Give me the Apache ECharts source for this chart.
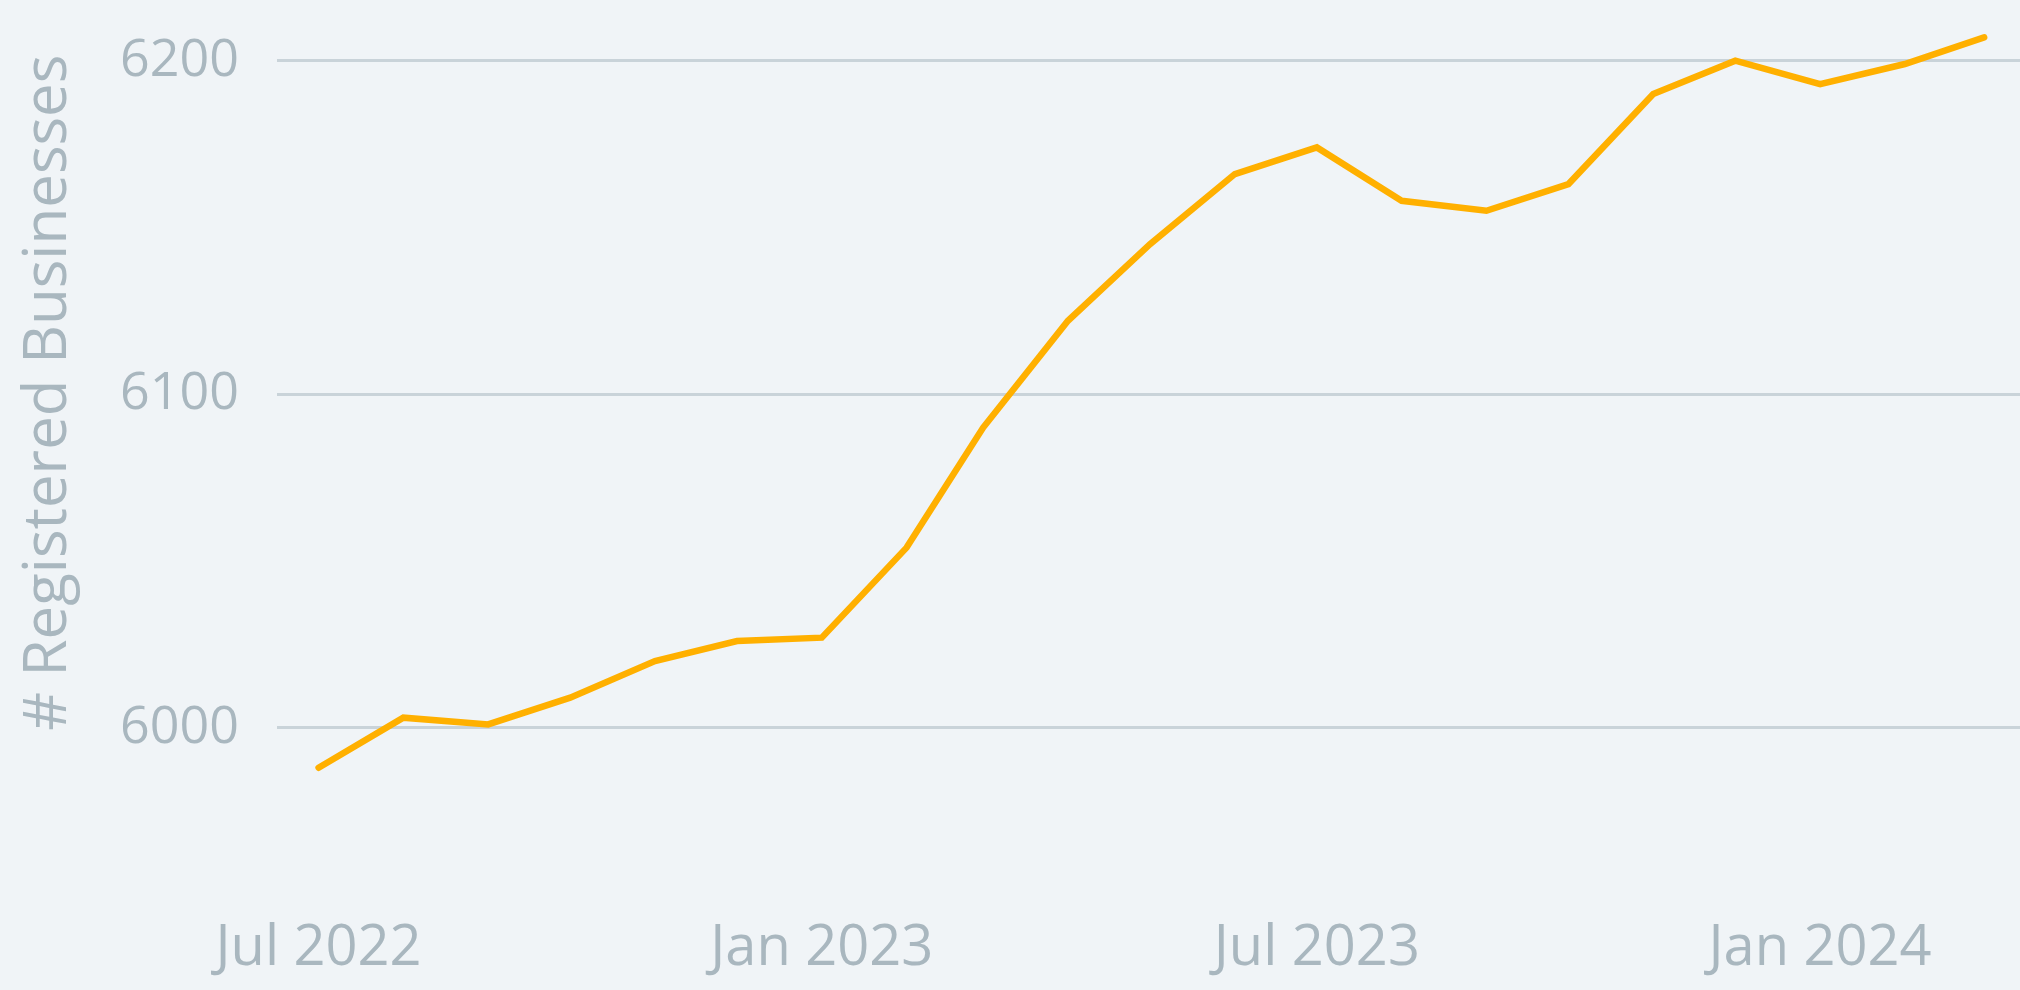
<!DOCTYPE html>
<html>
<head>
<meta charset="utf-8">
<script src="https://cdn.jsdelivr.net/npm/echarts@6/dist/echarts.min.js"></script>
<style>
  html, body { margin: 0; padding: 0; background: #f0f4f7; }
  #chart { width: 2020px; height: 990px; }
</style>
</head>
<body>
<div id="chart"></div>
<script>
// monthly counts, Jul 2022 - Mar 2024
let months = [
  "2022-07-01", "2022-08-01", "2022-09-01", "2022-10-01", "2022-11-01", "2022-12-01",
  "2023-01-01", "2023-02-01", "2023-03-01", "2023-04-01", "2023-05-01", "2023-06-01",
  "2023-07-01", "2023-08-01", "2023-09-01", "2023-10-01", "2023-11-01", "2023-12-01",
  "2024-01-01", "2024-02-01", "2024-03-01",
];
let businesses = [
  5988, 6003, 6001, 6009, 6020, 6026,
  6027, 6054, 6090, 6122, 6145, 6166,
  6174, 6158, 6155, 6163, 6190, 6200,
  6193, 6199, 6207,
];
let xTickDates = ["2022-07-01", "2023-01-01", "2023-07-01", "2024-01-01"];
let xTickLabels = ["Jul 2022", "Jan 2023", "Jul 2023", "Jan 2024"];
let yTickValues = [6000, 6100, 6200];

function toTime(s) {
  let p = s.split("-");
  return Date.UTC(+p[0], +p[1] - 1, +p[2]);
}

const DAY = 24 * 3600 * 1000;
let textColor = "#a9b7bf";
let xTickTimes = xTickDates.map(toTime);

let myCharts = echarts.init(document.getElementById("chart"));
myCharts.setOption({
  backgroundColor: "#f0f4f7",
  animation: false,
  textStyle: { fontFamily: "Open Sans" },
  grid: {
    left: 277,
    right: 0,
    top: 27.35,
    bottom: 128.9,
  },
  xAxis: {
    // dates as plain timestamps so the ticks can be placed by hand
    type: "value",
    min: toTime("2022-07-01") - 15.2 * DAY,
    max: toTime("2024-03-01") + 13.1 * DAY,
    axisLine: { show: false },
    axisTick: { show: false },
    splitLine: { show: false },
    axisLabel: {
      customValues: xTickTimes,
      interval: 0,
      hideOverlap: false,
      formatter: function (v) {
        let i = xTickTimes.indexOf(v);
        return i >= 0 ? xTickLabels[i] : "";
      },
      color: textColor,
      fontSize: 56,
      margin: 60,
      fontFamily: "Open Sans",
    },
  },
  yAxis: {
    type: "value",
    min: 5960,
    max: 6210,
    interval: 20,
    name: "# Registered Businesses",
    nameLocation: "middle",
    nameGap: 198,
    nameTextStyle: {
      color: textColor,
      fontSize: 60,
      fontFamily: "Open Sans",
      // pushes the title up a bit
      padding: [0, 0, 0, 103],
    },
    axisLine: { show: false },
    axisTick: { show: false },
    axisLabel: {
      color: textColor,
      fontSize: 52,
      margin: 38,
      fontFamily: "Open Sans",
      formatter: function (v) {
        return yTickValues.indexOf(v) >= 0 ? String(v) : "";
      },
    },
    splitLine: {
      show: true,
      lineStyle: {
        // only every 100 gets a visible line
        color: ["rgba(0,0,0,0)", "rgba(0,0,0,0)", "#c9d3d9", "rgba(0,0,0,0)", "rgba(0,0,0,0)"],
        width: 3,
      },
    },
  },
  series: [
    {
      type: "line",
      data: months.map(function (m, i) {
        return [toTime(m), businesses[i]];
      }),
      showSymbol: false,
      symbol: "none",
      lineStyle: {
        color: "#ffb000",
        width: 6.5,
        cap: "round",
        join: "miter",
      },
    },
  ],
});
</script>
</body>
</html>
